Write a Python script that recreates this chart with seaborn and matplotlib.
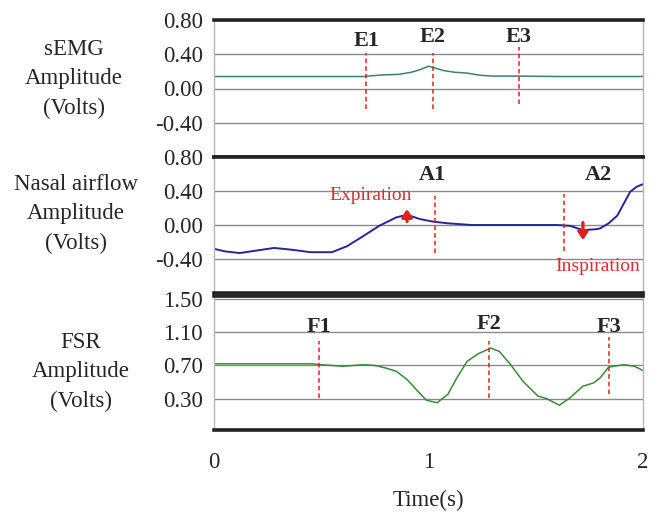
import matplotlib
matplotlib.use("Agg")
import matplotlib.pyplot as plt
import seaborn as sns
import pandas as pd

# ---------------- data ----------------
semg_t = [0, 0.2, 0.4, 0.6, 0.70, 0.74, 0.80, 0.86, 0.92, 0.96, 1.00, 1.03, 1.07, 1.12, 1.18, 1.24, 1.30, 1.42, 1.6, 1.8, 2.0]
semg_v = [0.14, 0.14, 0.14, 0.14, 0.14, 0.15, 0.16, 0.165, 0.19, 0.22, 0.26, 0.24, 0.21, 0.19, 0.18, 0.155, 0.145, 0.145, 0.14, 0.14, 0.14]

nasal_t = [0, 0.05, 0.12, 0.20, 0.28, 0.36, 0.45, 0.55, 0.62, 0.69, 0.77, 0.85, 0.90, 0.96, 1.02, 1.09, 1.2, 1.4, 1.6,
           1.66, 1.72, 1.78, 1.80, 1.84, 1.88, 1.91, 1.94, 1.97, 2.0]
nasal_v = [-0.28, -0.31, -0.33, -0.30, -0.27, -0.29, -0.32, -0.32, -0.25, -0.14, -0.01, 0.09, 0.12, 0.07, 0.04, 0.02, 0.0, 0.0, 0.0,
           -0.01, -0.06, -0.05, -0.04, 0.02, 0.11, 0.25, 0.39, 0.45, 0.48]

fsr_t = [0, 0.15, 0.3, 0.45, 0.5, 0.55, 0.6, 0.65, 0.7, 0.75, 0.8, 0.85, 0.90, 0.95, 0.99, 1.04, 1.09, 1.13, 1.18, 1.23, 1.29,
         1.33, 1.38, 1.44, 1.51, 1.55, 1.61, 1.66, 1.72, 1.77, 1.80, 1.84, 1.91, 1.96, 2.0]
fsr_v = [0.72, 0.72, 0.72, 0.72, 0.71, 0.70, 0.69, 0.70, 0.71, 0.70, 0.67, 0.63, 0.53, 0.39, 0.28, 0.25, 0.35, 0.54, 0.75, 0.84, 0.91,
         0.87, 0.72, 0.51, 0.33, 0.30, 0.22, 0.31, 0.45, 0.49, 0.55, 0.68, 0.71, 0.69, 0.64]

semg_ticks = [0.80, 0.40, 0.00, -0.40]
nasal_ticks = [0.80, 0.40, 0.00, -0.40]
fsr_ticks = [1.50, 1.10, 0.70, 0.30]

e_labels = ["E1", "E2", "E3"]
e_times = [0.71, 1.02, 1.42]
e_low = [-0.235, -0.235, -0.18]
e_high = [0.42, 0.42, 0.48]
e_text_y = [0.55, 0.60, 0.60]

a_labels = ["A1", "A2"]
a_times = [1.03, 1.63]
a_low = [-0.33, -0.31]
a_high = [0.34, 0.36]
a_text_t = [1.02, 1.79]
a_text_y = [0.59, 0.59]

f_labels = ["F1", "F2", "F3"]
f_times = [0.49, 1.28, 1.84]
f_low = [0.31, 0.31, 0.35]
f_high = [1.00, 1.00, 1.04]
f_text_y = [1.17, 1.20, 1.16]

x_ticks = [0, 1, 2]
# --------------------------------------

sns.set_style("white")
plt.rcParams['font.family'] = ['Liberation Serif', 'DejaVu Serif']

fig = plt.figure(figsize=(6.6, 5.27), dpi=100)
L, R = 214 / 660, 643 / 660
def fy(p):
    return 1 - p / 527
ax1 = fig.add_axes([L, fy(157), R - L, fy(20) - fy(157)])
ax2 = fig.add_axes([L, fy(293), R - L, fy(157) - fy(293)])
ax3 = fig.add_axes([L, fy(430), R - L, fy(296) - fy(430)])

red = "#e0201c"
df1 = pd.DataFrame({"t": semg_t, "v": semg_v})
df2 = pd.DataFrame({"t": nasal_t, "v": nasal_v})
df3 = pd.DataFrame({"t": fsr_t, "v": fsr_v})
sns.lineplot(data=df1, x="t", y="v", ax=ax1, color="#3f7f74", lw=1.1)
sns.lineplot(data=df2, x="t", y="v", ax=ax2, color="#26269a", lw=1.4)
sns.lineplot(data=df3, x="t", y="v", ax=ax3, color="#3b8a3b", lw=1.1)

for ax, ticks, lim in [(ax1, semg_ticks, (-0.8, 0.8)), (ax2, nasal_ticks, (-0.8, 0.8)), (ax3, fsr_ticks, (-0.08, 1.54))]:
    ax.set_xlim(0, 2)
    ax.set_ylim(*lim)
    ax.set_yticks(ticks)
    ax.set_yticklabels([f"{v:.2f}" for v in ticks])
    ax.tick_params(axis='y', length=0, pad=8, labelsize=16.5)
    ax.tick_params(axis='x', length=0)
    ax.grid(axis='y', color="#8a8a8a", lw=1.0)
    ax.set_axisbelow(True)
    ax.set_xlabel("")
    ax.set_ylabel("")
    for s in ["top", "bottom"]:
        ax.spines[s].set_color("#222222")
        ax.spines[s].set_linewidth(2.6)
    for s in ["left", "right"]:
        ax.spines[s].set_color("#b5b5b5")
        ax.spines[s].set_linewidth(1.0)

ax1.set_xticks([])
ax2.set_xticks([])
ax3.set_xticks(x_ticks)
ax3.set_xticklabels([str(v) for v in x_ticks])
ax3.tick_params(axis='x', pad=16, labelsize=16.5)
ax3.set_xlabel("Time(s)", fontsize=16.5, labelpad=12)

# markers
ax1.vlines(e_times, e_low, e_high, colors=red, linestyles=(0, (3, 2)), lw=1.1)
for lab, t, y in zip(e_labels, e_times, e_text_y):
    ax1.text(t, y, lab, ha='center', va='center', fontsize=16, fontweight='bold')

ax2.vlines(a_times, a_low, a_high, colors=red, linestyles=(0, (3, 2)), lw=1.1)
for lab, t, y in zip(a_labels, a_text_t, a_text_y):
    ax2.text(t, y, lab, ha='center', va='center', fontsize=16, fontweight='bold')

ax3.vlines(f_times, f_low, f_high, colors=red, linestyles=(0, (3, 2)), lw=1.1)
for lab, t, y in zip(f_labels, f_times, f_text_y):
    ax3.text(t, y, lab, ha='center', va='center', fontsize=16, fontweight='bold')

ax2.annotate("", xy=(0.90, 0.22), xytext=(0.90, 0.01),
             arrowprops=dict(arrowstyle="-|>,head_width=0.3,head_length=0.45", color=red, lw=2.4))
ax2.annotate("", xy=(1.72, -0.21), xytext=(1.72, 0.06),
             arrowprops=dict(arrowstyle="-|>,head_width=0.3,head_length=0.45", color=red, lw=2.4))
ax2.text(0.54, 0.35, "Expiration", color="#d63030", fontsize=14, ha='left', va='center')
ax2.text(1.79, -0.49, "Inspiration", color="#d63030", fontsize=14, ha='center', va='center')

# left labels
fig.text(74 / 660, fy(79), "sEMG\nAmplitude\n(Volts)", ha='center', va='center', fontsize=16.5, linespacing=1.5)
fig.text(76 / 660, fy(214), "Nasal airflow\nAmplitude\n(Volts)", ha='center', va='center', fontsize=16.5, linespacing=1.5)
fig.text(81 / 660, fy(372), "FSR\nAmplitude\n(Volts)", ha='center', va='center', fontsize=16.5, linespacing=1.5)

fig.savefig("out.png", dpi=100)
